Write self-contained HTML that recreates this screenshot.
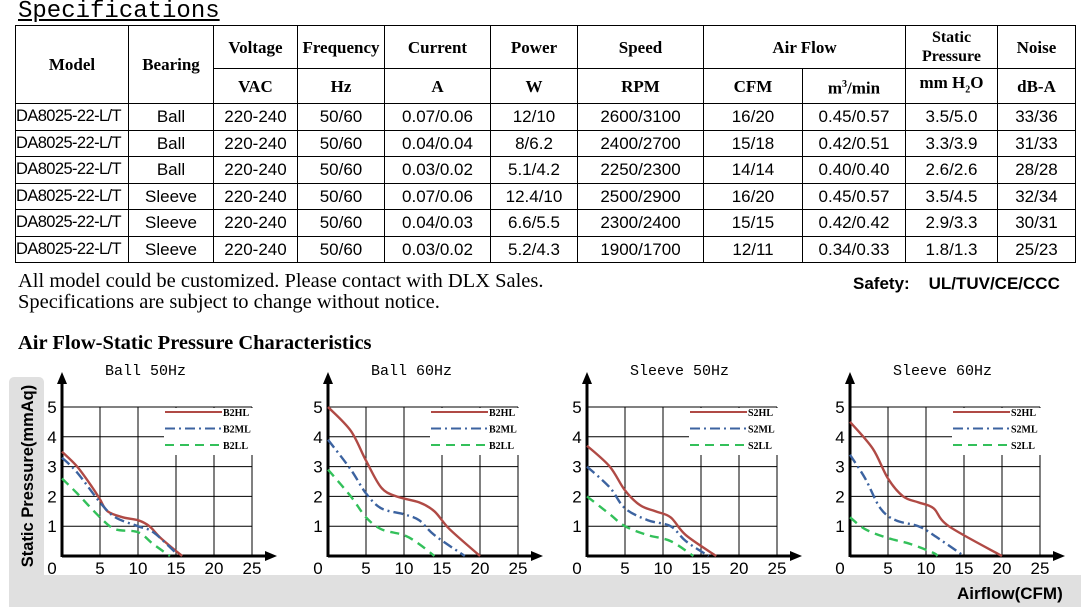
<!DOCTYPE html><html><head><meta charset="utf-8"><style>
body{margin:0;width:1084px;height:615px;background:#fff;position:relative;overflow:hidden;font-family:"Liberation Sans",sans-serif}
.a{position:absolute;white-space:nowrap}
table{position:absolute;left:15px;top:25px;border-collapse:collapse;table-layout:fixed}
td{border:1.5px solid #000;text-align:center;padding:0;font-size:17px;height:25.5px;line-height:25px;white-space:nowrap;overflow:hidden}
td.h{font-family:"Liberation Serif",serif;font-weight:bold;font-size:17px;line-height:19px}
td.m{font-size:16.5px;text-align:left;letter-spacing:-0.6px}
</style></head><body>
<div class="a" style="left:18px;top:-2px;font-family:'Liberation Mono',monospace;font-size:24px;text-decoration:underline">Specifications</div>
<table>
<colgroup><col style="width:113px"><col style="width:85px"><col style="width:84px"><col style="width:87px"><col style="width:106px"><col style="width:87px"><col style="width:126px"><col style="width:99px"><col style="width:103px"><col style="width:92px"><col style="width:78px"></colgroup>
<tr style="height:43px"><td class="h" rowspan="2">Model</td><td class="h" rowspan="2">Bearing</td><td class="h">Voltage</td><td class="h">Frequency</td><td class="h">Current</td><td class="h">Power</td><td class="h">Speed</td><td class="h" colspan="2">Air Flow</td><td class="h" style="font-size:16px">Static<br>Pressure</td><td class="h">Noise</td></tr>
<tr style="height:35px"><td class="h">VAC</td><td class="h">Hz</td><td class="h">A</td><td class="h">W</td><td class="h">RPM</td><td class="h">CFM</td><td class="h">m<sup style="font-size:10px">3</sup>/min</td><td class="h">mm H<sub style="font-size:10px">2</sub>O</td><td class="h">dB-A</td></tr>
<tr><td class="m">DA8025-22-L/T</td><td>Ball</td><td>220-240</td><td>50/60</td><td>0.07/0.06</td><td>12/10</td><td>2600/3100</td><td>16/20</td><td>0.45/0.57</td><td>3.5/5.0</td><td>33/36</td></tr>
<tr><td class="m">DA8025-22-L/T</td><td>Ball</td><td>220-240</td><td>50/60</td><td>0.04/0.04</td><td>8/6.2</td><td>2400/2700</td><td>15/18</td><td>0.42/0.51</td><td>3.3/3.9</td><td>31/33</td></tr>
<tr><td class="m">DA8025-22-L/T</td><td>Ball</td><td>220-240</td><td>50/60</td><td>0.03/0.02</td><td>5.1/4.2</td><td>2250/2300</td><td>14/14</td><td>0.40/0.40</td><td>2.6/2.6</td><td>28/28</td></tr>
<tr><td class="m">DA8025-22-L/T</td><td>Sleeve</td><td>220-240</td><td>50/60</td><td>0.07/0.06</td><td>12.4/10</td><td>2500/2900</td><td>16/20</td><td>0.45/0.57</td><td>3.5/4.5</td><td>32/34</td></tr>
<tr><td class="m">DA8025-22-L/T</td><td>Sleeve</td><td>220-240</td><td>50/60</td><td>0.04/0.03</td><td>6.6/5.5</td><td>2300/2400</td><td>15/15</td><td>0.42/0.42</td><td>2.9/3.3</td><td>30/31</td></tr>
<tr><td class="m">DA8025-22-L/T</td><td>Sleeve</td><td>220-240</td><td>50/60</td><td>0.03/0.02</td><td>5.2/4.3</td><td>1900/1700</td><td>12/11</td><td>0.34/0.33</td><td>1.8/1.3</td><td>25/23</td></tr>
</table>
<div class="a" style="left:18px;top:270px;font-family:'Liberation Serif',serif;font-size:20.5px">All model could be customized. Please contact with DLX Sales.</div>
<div class="a" style="left:18px;top:291px;font-family:'Liberation Serif',serif;font-size:20.5px">Specifications are subject to change without notice.</div>
<div class="a" style="left:853px;top:274px;font-weight:bold;font-size:17px">Safety:&nbsp;&nbsp;&nbsp;&nbsp;UL/TUV/CE/CCC</div>
<div class="a" style="left:18px;top:332px;font-family:'Liberation Serif',serif;font-size:20.5px;font-weight:bold">Air Flow-Static Pressure Characteristics</div>
<svg id="s" width="1084" height="615" style="position:absolute;left:0;top:0"></svg>
<script>
var s=document.getElementById('s'),h='';
h+='<rect x="9" y="377" width="35" height="230" rx="5" fill="#e0e0e0"/><rect x="9" y="575" width="1072" height="32" fill="#e0e0e0"/>';
h+='<text transform="translate(33,476) rotate(-90)" text-anchor="middle" font-family="Liberation Sans" font-weight="bold" font-size="16.5">Static Pressure(mmAq)</text>';
h+='<text x="957" y="599" font-family="Liberation Sans" font-weight="bold" font-size="17">Airflow(CFM)</text>';
var D=[
{o:0,t:'Ball 50Hz',L:['B2HL','B2ML','B2LL'],c:[[[0,3.5],[2,3],[4,2.3],[5,1.9],[6,1.5],[8,1.3],[10,1.2],[11.5,1],[13,0.6],[15.8,0]],[[0,3.3],[2,2.8],[5,1.8],[7,1.3],[10,1],[12,0.8],[15,0.1]],[[0,2.6],[2,2.1],[5,1.3],[7,0.9],[10,0.8],[12,0.4],[14.2,0]]]},
{o:266,t:'Ball 60Hz',L:['B2HL','B2ML','B2LL'],c:[[[0,5],[3,4.2],[5,3.2],[7,2.3],[9,2],[12,1.8],[14,1.5],[16,0.9],[20,0]],[[0,3.9],[3,2.9],[5,2.1],[7,1.6],[10,1.4],[12,1.2],[14,0.7],[18,0]],[[0,2.9],[3,2],[5,1.3],[7,0.9],[10,0.7],[12,0.4],[14,0]]]},
{o:525,t:'Sleeve 50Hz',L:['S2HL','S2ML','S2LL'],c:[[[0,3.7],[3,3],[5,2.2],[7,1.7],[9,1.5],[11,1.3],[13,0.7],[17,0]],[[0,3],[3,2.3],[5,1.6],[8,1.2],[11,1],[13,0.5],[16,0]],[[0,2],[3,1.4],[5,1],[8,0.7],[11,0.5],[14,0]]]},
{o:788,t:'Sleeve 60Hz',L:['S2HL','S2ML','S2LL'],c:[[[0,4.5],[3,3.6],[5,2.6],[7,2],[9,1.8],[11,1.6],[13,1],[20,0]],[[0,3.4],[2,2.6],[4,1.6],[6,1.2],[9,1],[11,0.7],[15,0]],[[0,1.3],[2,0.9],[5,0.6],[8,0.4],[11,0.1],[11.5,0]]]}];
var cols=['#b04a45','#3c63a0','#33c05a'],dash=['','10,4,2,4','9,6'];
function smooth(P){var d='M'+P[0][0].toFixed(1)+','+P[0][1].toFixed(1);for(var i=0;i<P.length-1;i++){var p0=P[i-1]||P[i],p1=P[i],p2=P[i+1],p3=P[i+2]||p2;
d+=' C'+(p1[0]+(p2[0]-p0[0])/6).toFixed(1)+','+(p1[1]+(p2[1]-p0[1])/6).toFixed(1)+' '+(p2[0]-(p3[0]-p1[0])/6).toFixed(1)+','+(p2[1]-(p3[1]-p1[1])/6).toFixed(1)+' '+p2[0].toFixed(1)+','+p2[1].toFixed(1);}return d;}
D.forEach(function(d){var X0=62+d.o,Y0=556,sx=7.6,sy=29.8;
h+='<text x="'+(X0+43)+'" y="375" font-family="Liberation Mono" font-size="15">'+d.t+'</text>';
for(var i=1;i<=5;i++){h+='<line x1="'+(X0+i*38)+'" y1="'+(Y0-5*sy)+'" x2="'+(X0+i*38)+'" y2="'+Y0+'" stroke="#000"/>';h+='<line x1="'+X0+'" y1="'+(Y0-i*sy)+'" x2="'+(X0+190)+'" y2="'+(Y0-i*sy)+'" stroke="#000"/>';}
h+='<rect x="'+(X0+102)+'" y="'+(Y0-5*sy+1)+'" width="89" height="47" fill="#fff"/>';
h+='<line x1="'+X0+'" y1="'+(Y0+1)+'" x2="'+X0+'" y2="382" stroke="#000" stroke-width="3"/><path d="M'+(X0-5)+',384 L'+X0+',372 L'+(X0+5)+',384Z"/>';
h+='<line x1="'+X0+'" y1="'+Y0+'" x2="'+(X0+205)+'" y2="'+Y0+'" stroke="#000" stroke-width="3"/><path d="M'+(X0+203)+','+(Y0-5)+' L'+(X0+215)+','+Y0+' L'+(X0+203)+','+(Y0+5)+'Z"/>';
for(i=0;i<=5;i++){h+='<text x="'+(X0+i*38-(i==0?10:0))+'" y="'+(Y0+18)+'" text-anchor="middle" font-size="17" font-family="Liberation Sans">'+(i*5)+'</text>';if(i>0)h+='<text x="'+(X0-10)+'" y="'+(Y0-i*sy+6)+'" text-anchor="middle" font-size="17" font-family="Liberation Sans">'+i+'</text>';}
for(var k=0;k<3;k++){var y=Y0-5*sy+5+k*16.5;
h+='<line x1="'+(X0+103)+'" y1="'+y+'" x2="'+(X0+160)+'" y2="'+y+'" stroke="'+cols[k]+'" stroke-width="2" stroke-dasharray="'+dash[k]+'"/>';
h+='<text x="'+(X0+161)+'" y="'+(y+4)+'" font-family="Liberation Serif" font-weight="bold" font-size="10">'+d.L[k]+'</text>';
var P=d.c[k].map(function(q){return [X0+q[0]*sx,Y0-q[1]*sy]});
h+='<path d="'+smooth(P)+'" fill="none" stroke="'+cols[k]+'" stroke-width="2.4" stroke-dasharray="'+dash[k]+'"/>';}
});
s.innerHTML=h;
</script>
</body></html>
